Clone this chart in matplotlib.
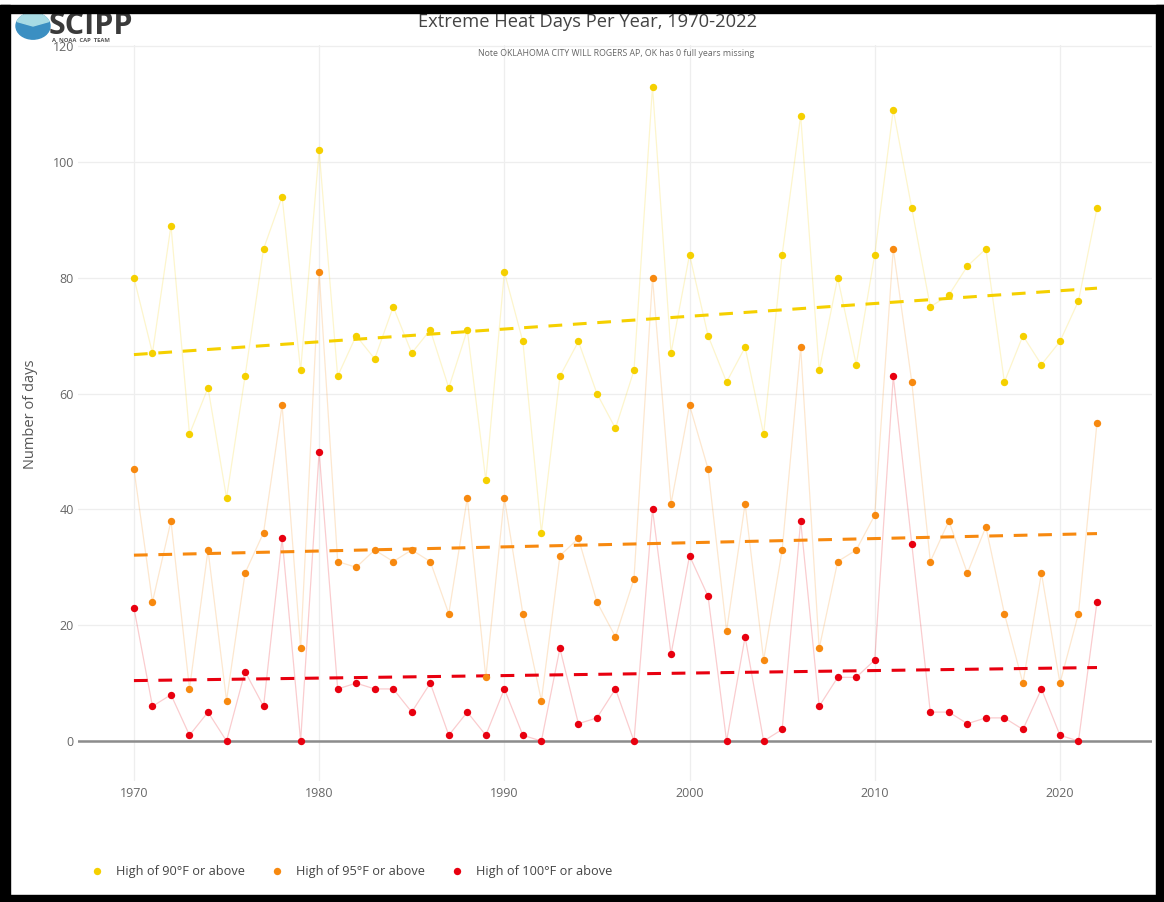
import numpy as np
import matplotlib
matplotlib.use("Agg")
import matplotlib.pyplot as plt
from matplotlib.lines import Line2D
from matplotlib.patches import Rectangle, Circle, Wedge

plt.rcParams["font.family"] = ["Open Sans", "DejaVu Sans"]

years = list(range(1970, 2023))

days_90 = [80, 67, 89, 53, 61, 42, 63, 85, 94, 64,
           102, 63, 70, 66, 75, 67, 71, 61, 71, 45,
           81, 69, 36, 63, 69, 60, 54, 64, 113, 67,
           84, 70, 62, 68, 53, 84, 108, 64, 80, 65,
           84, 109, 92, 75, 77, 82, 85, 62, 70, 65,
           69, 76, 92]

days_95 = [47, 24, 38, 9, 33, 7, 29, 36, 58, 16,
           81, 31, 30, 33, 31, 33, 31, 22, 42, 11,
           42, 22, 7, 32, 35, 24, 18, 28, 80, 41,
           58, 47, 19, 41, 14, 33, 68, 16, 31, 33,
           39, 85, 62, 31, 38, 29, 37, 22, 10, 29,
           10, 22, 55]

days_100 = [23, 6, 8, 1, 5, 0, 12, 6, 35, 0,
            50, 9, 10, 9, 9, 5, 10, 1, 5, 1,
            9, 1, 0, 16, 3, 4, 9, 0, 40, 15,
            32, 25, 0, 18, 0, 2, 38, 6, 11, 11,
            14, 63, 34, 5, 5, 3, 4, 4, 2, 9,
            1, 0, 24]

labels = ["High of 90°F or above", "High of 95°F or above", "High of 100°F or above"]
colors = ["#F5D000", "#F7890F", "#E8000F"]

x_ticks = [1970, 1980, 1990, 2000, 2010, 2020]
y_ticks = [0, 20, 40, 60, 80, 100, 120]

W, H = 1164, 902
fig = plt.figure(figsize=(W / 100, H / 100), dpi=100)
fig.patch.set_facecolor("white")
ax = fig.add_axes([78 / W, 1 - 781 / H, 1074 / W, 736 / H])

x = np.array(years)
for vals, col in zip([days_90, days_95, days_100], colors):
    y = np.array(vals)
    ax.plot(x, y, color=col, alpha=0.2, lw=0.9, zorder=2)
    ax.plot(x, y, "o", color=col, ms=5.3, mec="none", zorder=4)

# linear trends
for vals, col in zip([days_90, days_95, days_100], colors):
    k, b = np.polyfit(x, np.array(vals), 1)
    ax.plot(x, k * x + b, color=col, lw=2.2, dashes=(4.5, 3.5), zorder=3)

ax.axhline(0, color="#8c8c8c", lw=1.8, zorder=1)

ax.set_xlim(1966.98, 2024.97)
ax.set_ylim(-6.9, 120.2)
ax.set_xticks(x_ticks)
ax.set_yticks(y_ticks)
ax.grid(True, color="#eeeeee", lw=0.9)
ax.set_axisbelow(True)
for s in ax.spines.values():
    s.set_visible(False)
ax.tick_params(length=0, labelsize=9, labelcolor="#666666")
ax.tick_params(axis="x", pad=4)
ax.tick_params(axis="y", pad=3)

fig.text(31 / W, 1 - 414 / H, "Number of days", rotation=90, ha="center", va="center",
         fontsize=10.5, color="#555555")
fig.text(588 / W, 1 - 22 / H, "Extreme Heat Days Per Year, 1970-2022", ha="center", va="center",
         fontsize=13.2, color="#444444")
fig.text(616 / W, 1 - 53 / H, "Note OKLAHOMA CITY WILL ROGERS AP, OK has 0 full years missing",
         ha="center", va="center", fontsize=6.3, color="#666666")

handles = [Line2D([], [], ls="none", marker="o", ms=5.3, color=c, mec="none") for c in colors]
fig.legend(handles, labels, loc="center left", bbox_to_anchor=(90.6 / W, 1 - 872 / H), ncol=3,
           frameon=False, fontsize=9.2, labelcolor="#444444", handlelength=1.0, handletextpad=1.0,
           columnspacing=2.0, borderpad=0, borderaxespad=0)

# logo
fig.add_artist(Circle((33 / W, 1 - 26 / H), 17 / W, transform=fig.transFigure, color="#3b8fc2", zorder=5))
fig.add_artist(Wedge((33 / W, 1 - 26 / H), 17 / W, 20, 160, transform=fig.transFigure,
                     color="#a8dbe4", zorder=6))
fig.text(49 / W, 1 - 26 / H, "SCIPP", fontsize=22, fontweight="bold", color="#3a3a3a",
         ha="left", va="center", zorder=7)
fig.text(52 / W, 1 - 40 / H, "A  NOAA  CAP  TEAM", fontsize=4.2, fontweight="bold", color="#555555",
         ha="left", va="center", zorder=7)

# screenshot border
for rx, ry, rw, rh in [(0, 5, W, 8), (0, 5, 10, H), (1156, 5, 8, H), (0, 895, W, 7)]:
    fig.add_artist(Rectangle((rx / W, 1 - (ry + rh) / H), rw / W, rh / H,
                             transform=fig.transFigure, color="black", zorder=10))

fig.savefig("out.png", dpi=100)
